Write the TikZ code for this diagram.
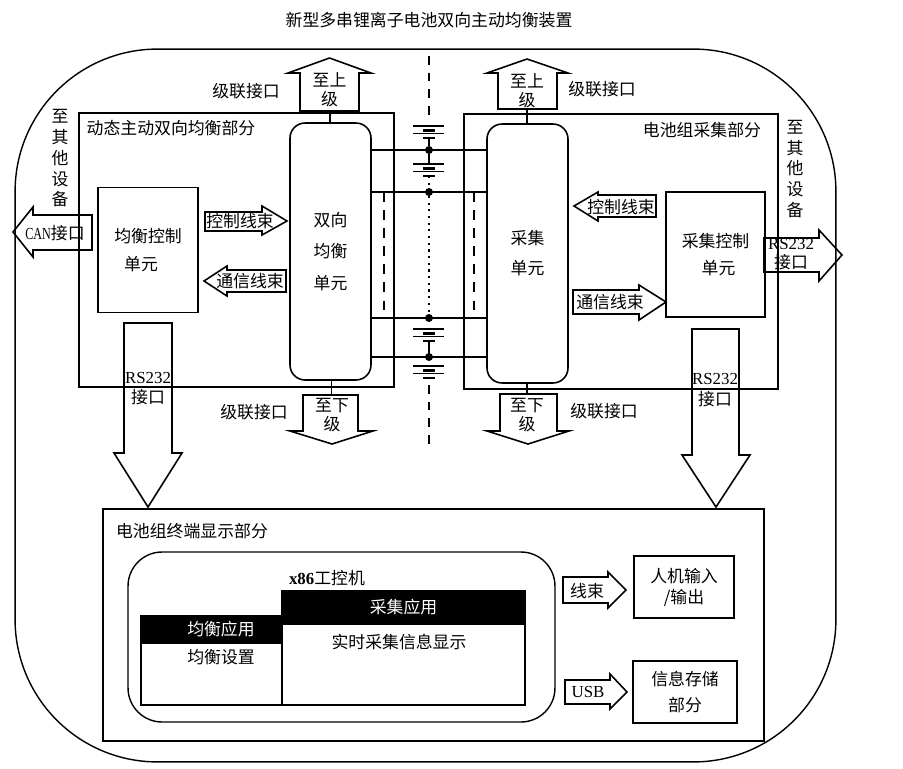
\documentclass[tikz,border=0pt]{standalone}
\usepackage{fontspec}
\setmainfont{Noto Sans CJK SC}
\newfontfamily\latinserif{Liberation Serif}
\newfontfamily\latincond[FakeStretch=0.72]{Liberation Serif}
\tikzset{
  every node/.style={font=\fontsize{9.6pt}{10.8pt}\selectfont, inner sep=0pt, outer sep=0pt, align=center},
  wire/.style={line width=0.9pt},
  unitbox/.style={draw, line width=0.9pt},
  roundbox/.style={draw, line width=0.9pt, rounded corners=0.3cm},
  blockarrow/.style={draw, line width=0.9pt, line join=miter},
  darkhead/.style={draw, fill=black, text=white, line width=0.8pt},
  plate/.style={line width=0.8pt},
  plateshort/.style={line width=1.4pt}
}

\begin{document}
\begin{tikzpicture}[x=0.02cm, y=-0.02cm]
  \useasboundingbox (0,0) rectangle (903,768);
  \node (title) at (429,20) {新型多串锂离子电池双向主动均衡装置};
  \node[draw, line width=0.8pt, rounded corners=2.85cm, minimum width=16.42cm, minimum height=14.26cm] (outer) at (425.5,405.5) {};

  % upper blocks
  \node[unitbox, minimum width=6.3cm, minimum height=5.48cm] (balpart) at (236.5,250) {};
  \node[unitbox, minimum width=6.28cm, minimum height=5.5cm] (colpart) at (621,251.5) {};
  \node (balparttext) at (171,128) {动态主动双向均衡部分};
  \node (colparttext) at (702,130) {电池组采集部分};
  \node[roundbox, minimum width=1.62cm, minimum height=5.14cm] (balunit) at (330.5,251.5) {双向\\[7pt]均衡\\[7pt]单元};
  \node[roundbox, minimum width=1.62cm, minimum height=5.18cm] (colunit) at (527.5,253.5) {采集\\[6.3pt]单元};
  \node[unitbox, minimum width=1.99cm, minimum height=2.5cm] (balctrl) at (148,250) {均衡控制\\[5pt]\hspace*{-.28cm}单元};
  \node[unitbox, minimum width=1.98cm, minimum height=2.5cm] (colctrl) at (715.5,254.5) {采集控制\\[5pt]\hspace*{.12cm}单元};

  % cascade arrows
  \draw[blockarrow] (300,111) -- (300,73) -- (288,73) -- (329.5,58) -- (371,73) -- (359,73) -- (359,111) -- cycle;
  \draw[blockarrow] (498,109) -- (498,73) -- (487,73) -- (527,59) -- (568,73) -- (557,73) -- (557,109) -- cycle;
  \draw[blockarrow] (303,395) -- (303,431) -- (290,431) -- (332,444) -- (373,431) -- (358,431) -- (358,395) -- cycle;
  \draw[blockarrow] (500,394) -- (500,431) -- (487,431) -- (528,444) -- (569,431) -- (557,431) -- (557,394) -- cycle;
  \node (upleft) at (329.5,90) {至上\\级};
  \node (upright) at (527,90.5) {至上\\级};
  \node (downleft) at (332,415) {至下\\级};
  \node (downright) at (527,415) {至下\\级};
  \coordinate (upleftfoot) at (330,111);
  \coordinate (uprightfoot) at (527,109);
  \coordinate (downleftfoot) at (331.5,395);
  \coordinate (downrightfoot) at (527,394);
  \draw[wire] (upleftfoot) -- (upleftfoot |- balunit.north);
  \draw[wire] (uprightfoot) -- (uprightfoot |- colunit.north);
  \draw[wire] (downleftfoot) -- (downleftfoot |- balunit.south);
  \draw[wire] (downrightfoot) -- (downrightfoot |- colunit.south);
  \node (casc1) at (246,91) {级联接口};
  \node (casc2) at (602,89) {级联接口};
  \node (casc3) at (254,412) {级联接口};
  \node (casc4) at (604,411) {级联接口};

  % side labels and harness arrows
  \node (otherleft) at (60,158.5) {至\\[1pt]其\\[1pt]他\\[1pt]设\\[1pt]备};
  \node (otherright) at (795,169) {至\\[1pt]其\\[1pt]他\\[1pt]设\\[1pt]备};
  \draw[blockarrow] (92,215) -- (33,215) -- (33,207) -- (13,232) -- (33,257) -- (33,250) -- (92,250) -- cycle;
  \node (can) at (55,233) {{\latincond CAN}接口};
  \draw[blockarrow] (205,212) -- (262,212) -- (262,206) -- (287,221) -- (262,235) -- (262,231) -- (205,231) -- cycle;
  \node (ctrlleft) at (240,221) {控制线束};
  \draw[blockarrow] (286,270) -- (227,270) -- (227,266) -- (204,281) -- (227,296) -- (227,292) -- (286,292) -- cycle;
  \node (commleft) at (250,281) {通信线束};
  \draw[blockarrow] (656,195) -- (598,195) -- (598,192) -- (574,206) -- (598,221) -- (598,217) -- (656,217) -- cycle;
  \node (ctrlright) at (621,207) {控制线束};
  \draw[blockarrow] (573,290) -- (639,290) -- (639,285) -- (666,302) -- (639,320) -- (639,314) -- (573,314) -- cycle;
  \node (commright) at (610,302) {通信线束};
  \draw[blockarrow] (764,238) -- (819,238) -- (819,230) -- (842,255) -- (819,281) -- (819,272) -- (764,272) -- cycle;
  \node (rsright) at (791,254.5) {{\latinserif RS232}\\接口};

  % RS232 down arrows
  \draw[blockarrow] (124,323) -- (172,323) -- (172,453) -- (182,453) -- (148,507) -- (114,453) -- (124,453) -- cycle;
  \draw[blockarrow] (692,329) -- (739,329) -- (739,455) -- (750,455) -- (716,507) -- (682,455) -- (692,455) -- cycle;
  \node (rsleftdown) at (148,388.5) {{\latinserif RS232}\\[.5pt]接口};
  \node (rsrightdown) at (715,390) {{\latinserif RS232}\\[1pt]接口};

  % cells in the middle
  \foreach \y in {126,164,329,366} {
    \draw[plate] (413,\y) -- (444,\y);
    \draw[plateshort] (423,\y+4.5) -- (435,\y+4.5);
    \draw[plate] (413,\y+7.5) -- (444,\y+7.5);
    \draw[plateshort] (423,\y+12) -- (435,\y+12);
  }
  \foreach \y/\name in {150/J1,192/J2,318/J3,357/J4} {
    \node[circle, fill=black, minimum size=0.16cm] (\name) at (429,\y) {};
    \draw[wire] (balunit.east |- \name) -- (colunit.west |- \name);
  }
  \coordinate (axistop) at (429,56);
  \coordinate (axistopend) at (429,120);
  \coordinate (axisbot) at (429,385);
  \coordinate (axisbotend) at (429,450);
  \coordinate (cell1foot) at (429,138);
  \coordinate (cell2head) at (429,164);
  \coordinate (cell2foot) at (429,176);
  \coordinate (cell3foot) at (429,341);
  \draw[wire, dash pattern=on 5pt off 4.5pt] (axistop) -- (axistopend);
  \draw[wire, dash pattern=on 5pt off 4.5pt] (axisbot) -- (axisbotend);
  \draw[wire] (cell1foot) -- (J1) -- (cell2head);
  \draw[wire] (cell3foot) -- (J4);
  \draw[wire, dash pattern=on 1.2pt off 2.6pt] (cell2foot) -- (J2);
  \draw[wire, dash pattern=on 1.2pt off 2.6pt] (J2) -- (J3);
  \coordinate (tapL) at (384,192);
  \coordinate (tapLend) at (384,317);
  \coordinate (tapR) at (474,192);
  \coordinate (tapRend) at (474,317);
  \draw[wire, dash pattern=on 5.5pt off 4.8pt] (tapL) -- (tapLend);
  \draw[wire, dash pattern=on 5.5pt off 4.8pt] (tapR) -- (tapRend);

  % terminal part
  \node[unitbox, minimum width=13.22cm, minimum height=4.64cm] (termpart) at (433.5,625) {};
  \node (termtext) at (192,531) {电池组终端显示部分};
  \node[draw, line width=0.8pt, rounded corners=0.68cm, minimum width=8.54cm, minimum height=3.4cm] (ipc) at (341.5,637) {};
  \node (ipctext) at (327,578) {{\latinserif\bfseries x86}工控机};
  \node[unitbox, minimum width=2.82cm, minimum height=1.24cm] (balset) at (211.5,674) {};
  \node[unitbox, minimum width=4.86cm, minimum height=1.62cm] (realtime) at (403.5,664.5) {};
  \node[darkhead, minimum width=2.82cm, minimum height=0.54cm] (balapp) at (211.5,629.5) {\hspace*{.38cm}均衡应用};
  \node[darkhead, minimum width=4.86cm, minimum height=0.66cm] (colapp) at (403.5,607.5) {采集应用};
  \node (balsettext) at (221,657) {均衡设置};
  \node (realtimetext) at (399,642) {实时采集信息显示};

  \draw[blockarrow] (563,577) -- (608,577) -- (608,572) -- (626,590) -- (608,608) -- (608,603) -- (563,603) -- cycle;
  \node (harness) at (587,591) {线束};
  \draw[blockarrow] (565,680) -- (610,680) -- (610,674) -- (627,692) -- (610,709) -- (610,704) -- (565,704) -- cycle;
  \node (usb) at (588,692) {\latinserif USB};
  \node[unitbox, minimum width=2.0cm, minimum height=1.24cm] (hmi) at (684,587) {人机输入\\[1.2pt]/输出};
  \node[unitbox, minimum width=2.08cm, minimum height=1.24cm] (store) at (685,692) {信息存储\\[4pt]部分};
\end{tikzpicture}
\end{document}
